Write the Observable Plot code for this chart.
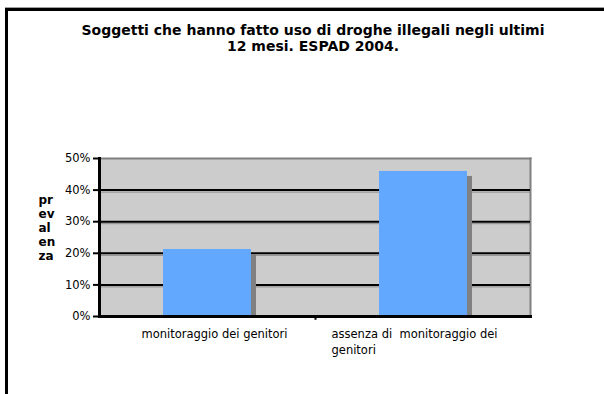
<!DOCTYPE html>
<html>
<head>
<meta charset="utf-8">
<script src="https://cdn.jsdelivr.net/npm/d3@7"></script>
<script src="https://cdn.jsdelivr.net/npm/@observablehq/plot@0.6"></script>
<style>
  html, body { margin: 0; padding: 0; background: #fff; }
  body { width: 604px; height: 394px; position: relative; overflow: hidden; font-family: "DejaVu Sans", sans-serif; }
  #frameTop { position: absolute; left: 5px; top: 7px; width: 700px; height: 1px; background: #a0a0a0; }
  #frameBox { position: absolute; left: 5px; top: 8px; width: 700px; height: 500px; border-top: 3px solid #000; border-left: 3px solid #000; }
  #title { position: absolute; left: 0; top: 22px; width: 626px; text-align: center; font-weight: bold; font-size: 14px; letter-spacing: 0px; line-height: 16px; color: #000; }
  #chart { position: absolute; left: 0; top: 0; }
</style>
</head>
<body>
<div id="frameTop"></div>
<div id="frameBox"></div>
<div id="chart"></div>
<div id="title">Soggetti che hanno fatto uso di droghe illegali negli ultimi<br>12 mesi. ESPAD 2004.</div>
<script>
const categories = ["monitoraggio dei genitori", "assenza di monitoraggio dei genitori"];
const values = [0.212, 0.459];
const categoryLabelLines = [["monitoraggio dei genitori"], ["assenza di\u00a0 monitoraggio dei", "genitori"]];
const yTicks = [0, 0.1, 0.2, 0.3, 0.4, 0.5];
const gridTicks = [0.1, 0.2, 0.3, 0.4];
const yLabelLines = ["pr", "ev", "al", "en", "za"];

const data = categories.map((c, i) => ({category: c, value: values[i]}));

const chart = Plot.plot({
  width: 604,
  height: 394,
  marginLeft: 99,
  marginRight: 74,
  marginTop: 158,
  marginBottom: 78,
  style: {fontFamily: "DejaVu Sans, sans-serif", fontSize: "11.5px", color: "#000", background: "transparent"},
  x: {domain: categories, paddingInner: 0.593, paddingOuter: 0.294, axis: null},
  y: {domain: [0, 0.5], axis: null},
  marks: [
    Plot.frame({fill: "#cccccc", stroke: "none"}),
    Plot.frame({anchor: "top", stroke: "#808080", strokeWidth: 2}),
    Plot.frame({anchor: "right", stroke: "#808080", strokeWidth: 2}),
    Plot.ruleY(gridTicks, {stroke: "#8a8a8a", strokeWidth: 1, dy: 2}),
    Plot.ruleY(gridTicks, {stroke: "#000", strokeWidth: 2}),
    Plot.barY(data, {x: "category", y: "value", fill: "#808080", dx: 5, dy: 5, clip: "frame"}),
    Plot.barY(data, {x: "category", y: "value", fill: "#62a8fe"}),
    Plot.frame({anchor: "left", stroke: "#000", strokeWidth: 3}),
    Plot.frame({anchor: "bottom", stroke: "#000", strokeWidth: 3}),
    Plot.axisY({ticks: yTicks, tickFormat: d3.format(".0%"), tickSize: 6, tickPadding: 3, strokeWidth: 2, stroke: "#000", fill: "#000", label: null}),
    Plot.ruleX([categories[1]], {dx: -108, y1: 0, y2: -0.012, stroke: "#000", strokeWidth: 2}),
    Plot.text([categoryLabelLines[0].join("\n")], {x: [categories[0]], y: [0], dx: 7, dy: 10, lineAnchor: "top", textAnchor: "middle", lineHeight: 1.4, fill: "#000"}),
    Plot.text([categoryLabelLines[1].join("\n")], {x: [categories[1]], y: [0], dx: -92, dy: 10, lineAnchor: "top", textAnchor: "start", lineHeight: 1.4, fill: "#000"}),
    Plot.text([yLabelLines.join("\n")], {frameAnchor: "left", dx: -61, dy: -10, textAnchor: "start", fontWeight: "bold", fontSize: 12, lineHeight: 1.15, fill: "#000"})
  ]
});
document.getElementById("chart").appendChild(chart);
</script>
</body>
</html>
